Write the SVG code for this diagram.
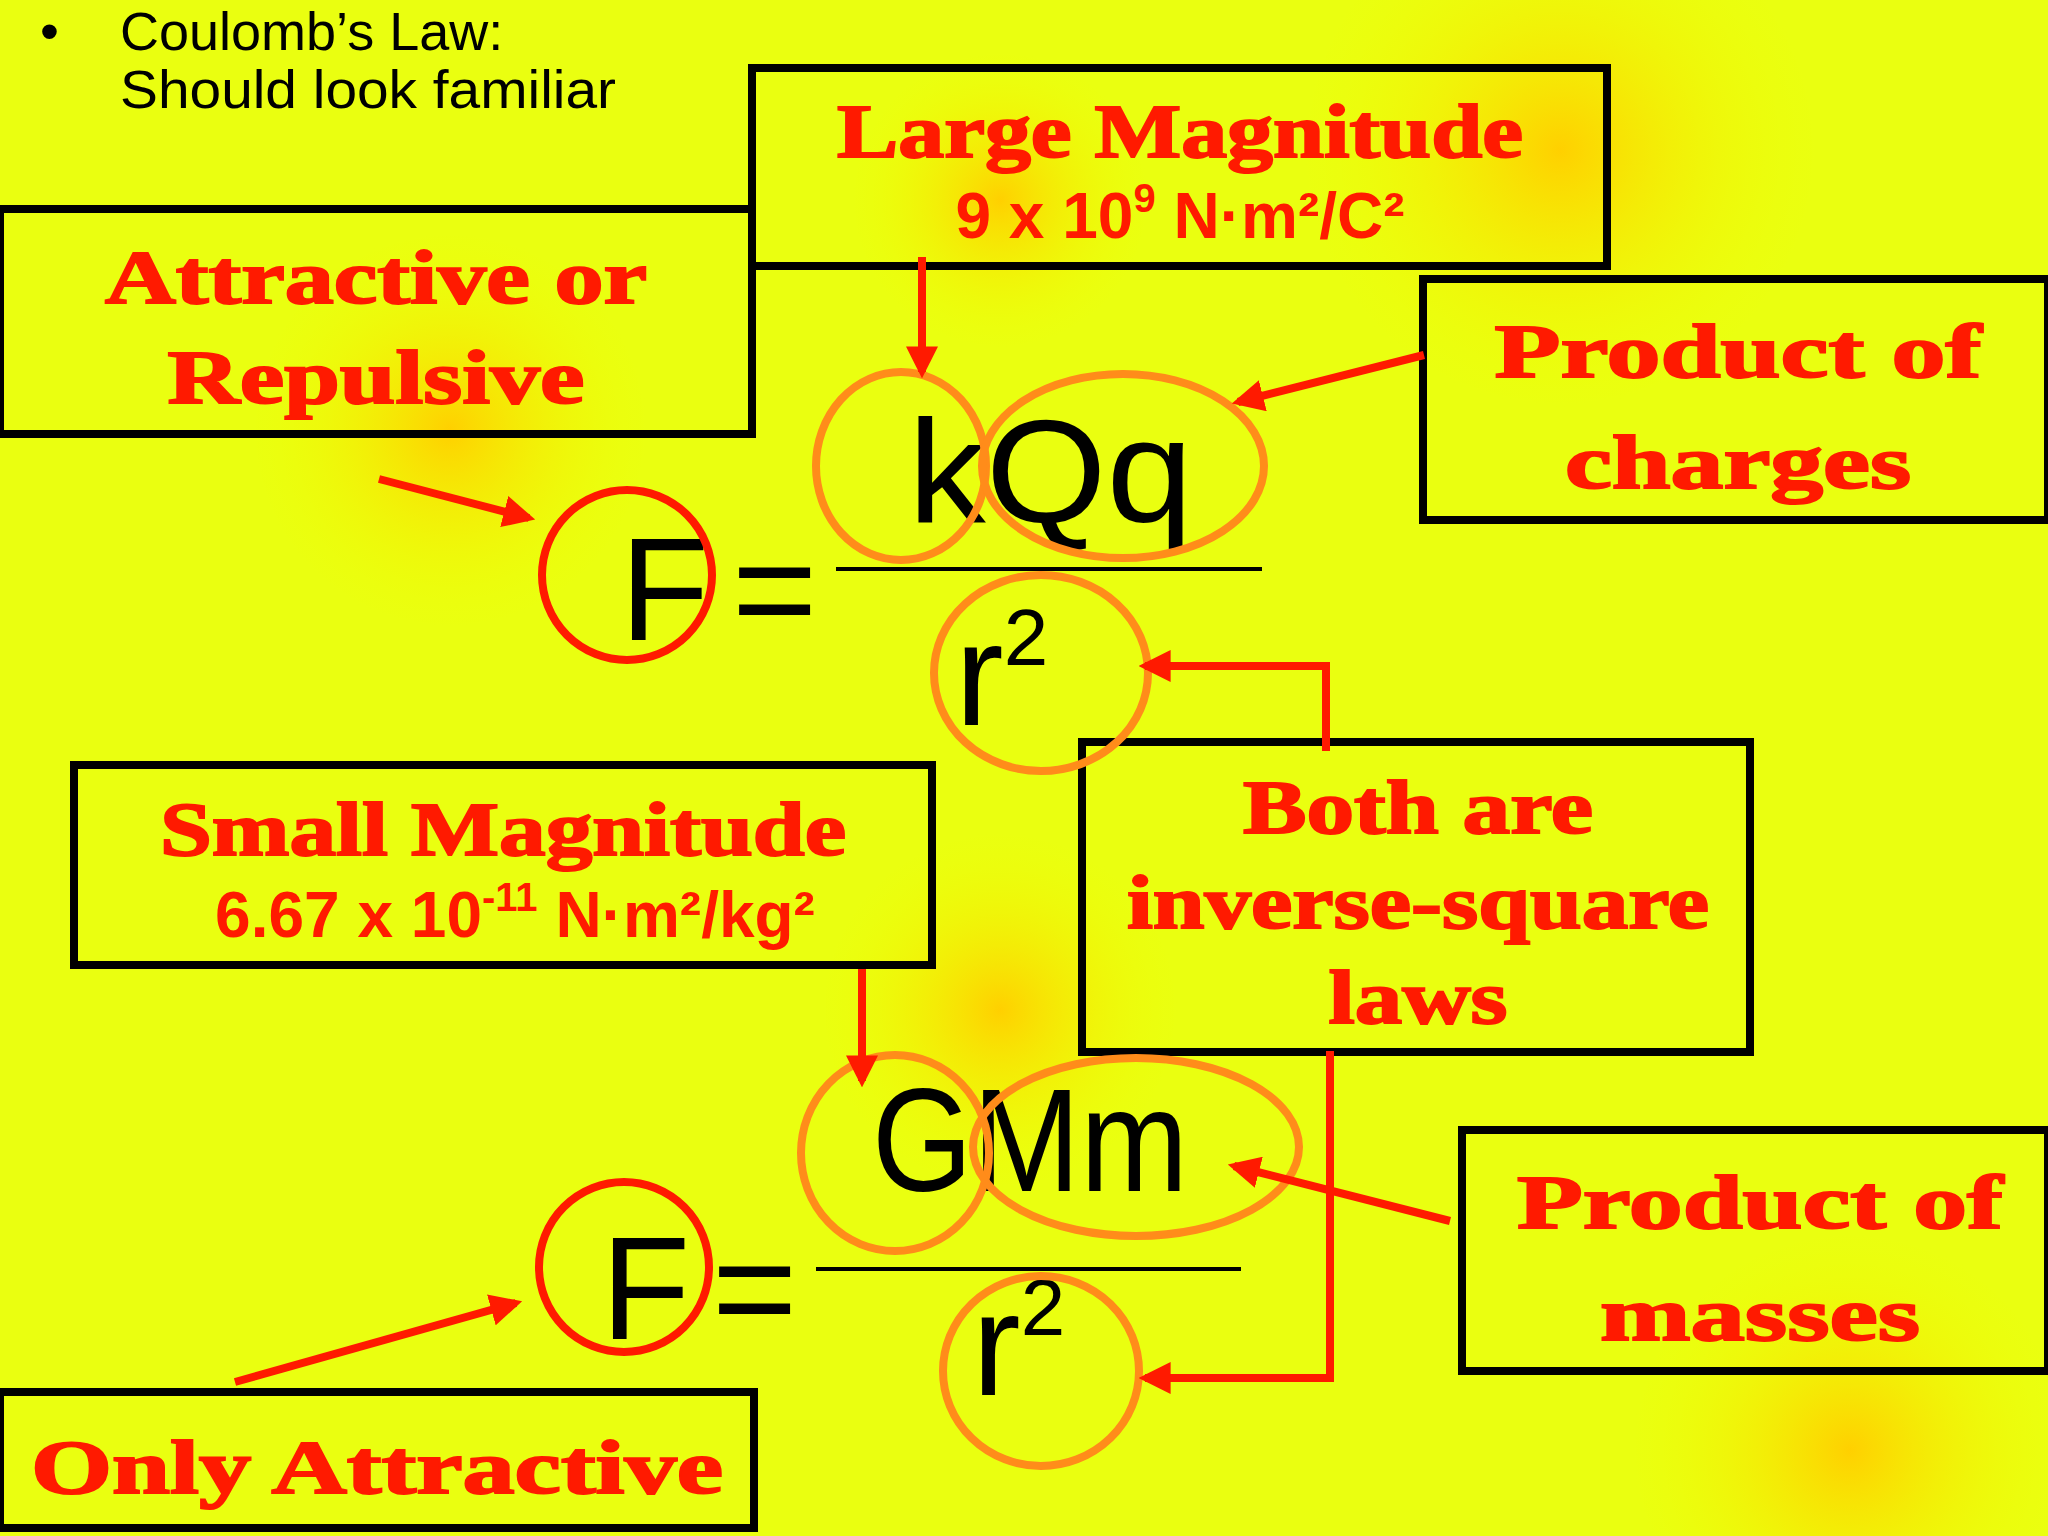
<svg xmlns="http://www.w3.org/2000/svg" width="2048" height="1536" viewBox="0 0 2048 1536">
<defs>
<radialGradient id="g1"><stop offset="0" stop-color="#ffd000"/><stop offset="1" stop-color="#f0ff00" stop-opacity="0"/></radialGradient>
<marker id="ah" viewBox="0 0 10 10" refX="8" refY="5" markerWidth="4" markerHeight="4" orient="auto"><path d="M0,0L10,5L0,10z" fill="#ff1a00"/></marker>
<style>
.box{fill:none;stroke:#000;stroke-width:8}
.t{font-family:"Liberation Serif",serif;font-weight:bold;fill:#ff1a00;stroke:#ff1a00;stroke-width:2;font-size:76px;text-anchor:middle}
.s{font-family:"Liberation Sans",Arial,sans-serif;font-weight:bold;fill:#ff1a00;font-size:64px;text-anchor:middle}
.eq{font-family:"Liberation Sans",Arial,sans-serif;fill:#000;font-size:146px}
.ar{fill:none;stroke:#ff1a00;stroke-width:8;marker-end:url(#ah)}
.cr{fill:none;stroke:#ff1a00;stroke-width:8}
.co{fill:none;stroke:#ff8c1a;stroke-width:8}
</style>
</defs>
<rect width="2048" height="1536" fill="#eaff10"/>
<circle cx="1560" cy="150" r="260" fill="url(#g1)"/>
<circle cx="450" cy="430" r="200" fill="url(#g1)"/>
<circle cx="1000" cy="1010" r="180" fill="url(#g1)"/>
<circle cx="1850" cy="1450" r="220" fill="url(#g1)"/>
<circle cx="1000" cy="200" r="150" fill="url(#g1)"/>
<text x="40" y="50" font-family="Liberation Sans,sans-serif" font-size="54" fill="#000">•</text>
<text x="120" y="50" font-family="Liberation Sans,sans-serif" font-size="54" fill="#000">Coulomb’s Law:</text>
<text x="120" y="108" font-family="Liberation Sans,sans-serif" font-size="54" fill="#000" textLength="496" lengthAdjust="spacingAndGlyphs">Should look familiar</text>
<g id="large"><rect class="box" x="752" y="68" width="855" height="198"/><text class="t" x="1180" y="157" textLength="686" lengthAdjust="spacingAndGlyphs">Large Magnitude</text><text class="s" x="1180" y="238">9 x 10<tspan font-size="40" dy="-26">9</tspan><tspan dy="26"> N·m²/C²</tspan></text></g>
<g id="attr"><rect class="box" x="0" y="209" width="752" height="225"/><text class="t" x="376" y="303" textLength="542" lengthAdjust="spacingAndGlyphs">Attractive or</text><text class="t" x="376" y="403" textLength="417" lengthAdjust="spacingAndGlyphs">Repulsive</text></g>
<g id="pc"><rect class="box" x="1423" y="279" width="625" height="241"/><text class="t" x="1738" y="377" textLength="487" lengthAdjust="spacingAndGlyphs">Product of</text><text class="t" x="1738" y="488" textLength="346" lengthAdjust="spacingAndGlyphs">charges</text></g>
<g id="small"><rect class="box" x="74" y="765" width="858" height="200"/><text class="t" x="503" y="855" textLength="686" lengthAdjust="spacingAndGlyphs">Small Magnitude</text><text class="s" x="515" y="937">6.67 x 10<tspan font-size="40" dy="-26">-11</tspan><tspan dy="26"> N·m²/kg²</tspan></text></g>
<g id="both"><rect class="box" x="1082" y="742" width="668" height="310"/><text class="t" x="1418" y="833" textLength="350" lengthAdjust="spacingAndGlyphs">Both are</text><text class="t" x="1418" y="928" textLength="582" lengthAdjust="spacingAndGlyphs">inverse-square</text><text class="t" x="1418" y="1023" textLength="179" lengthAdjust="spacingAndGlyphs">laws</text></g>
<g id="pm"><rect class="box" x="1462" y="1130" width="586" height="241"/><text class="t" x="1760" y="1228" textLength="486" lengthAdjust="spacingAndGlyphs">Product of</text><text class="t" x="1760" y="1340" textLength="320" lengthAdjust="spacingAndGlyphs">masses</text></g>
<g id="only"><rect class="box" x="0" y="1392" width="754" height="136"/><text class="t" x="377" y="1493" textLength="692" lengthAdjust="spacingAndGlyphs">Only Attractive</text></g>
<g id="eq1">
<text class="eq" x="620" y="640">F</text><text class="eq" x="732" y="640">=</text>
<text class="eq" x="908" y="522" textLength="285" lengthAdjust="spacingAndGlyphs">kQq</text>
<line x1="836" y1="569" x2="1262" y2="569" stroke="#000" stroke-width="4"/>
<text class="eq" x="955" y="725">r<tspan font-size="80" dy="-60">2</tspan></text>
<circle class="cr" cx="627" cy="575" r="85"/>
<ellipse class="co" cx="901" cy="466" rx="85" ry="94"/>
<ellipse class="co" cx="1123" cy="466" rx="141" ry="92"/>
<ellipse class="co" cx="1041" cy="673" rx="107" ry="98"/>
</g>
<g id="eq2">
<text class="eq" x="601" y="1339">F</text><text class="eq" x="712" y="1339">=</text>
<text class="eq" x="872" y="1191" textLength="316" lengthAdjust="spacingAndGlyphs">GMm</text>
<line x1="816" y1="1269" x2="1241" y2="1269" stroke="#000" stroke-width="4"/>
<text class="eq" x="972" y="1395">r<tspan font-size="80" dy="-60">2</tspan></text>
<circle class="cr" cx="624" cy="1267" r="85"/>
<ellipse class="co" cx="895" cy="1153" rx="94" ry="98"/>
<ellipse class="co" cx="1136" cy="1147" rx="163" ry="89"/>
<ellipse class="co" cx="1041" cy="1371" rx="98" ry="95"/>
</g>
<g id="connectors">
<path class="ar" d="M922,257V372"/>
<path class="ar" d="M1424,355L1238,402"/>
<path class="ar" d="M379,479L529,518"/>
<path class="ar" d="M1326,751V666H1145"/>
<path class="ar" d="M862,969V1081"/>
<path class="ar" d="M1330,1051V1378H1145"/>
<path class="ar" d="M1450,1221L1234,1166"/>
<path class="ar" d="M235,1382L516,1303"/>
</g>
</svg>
